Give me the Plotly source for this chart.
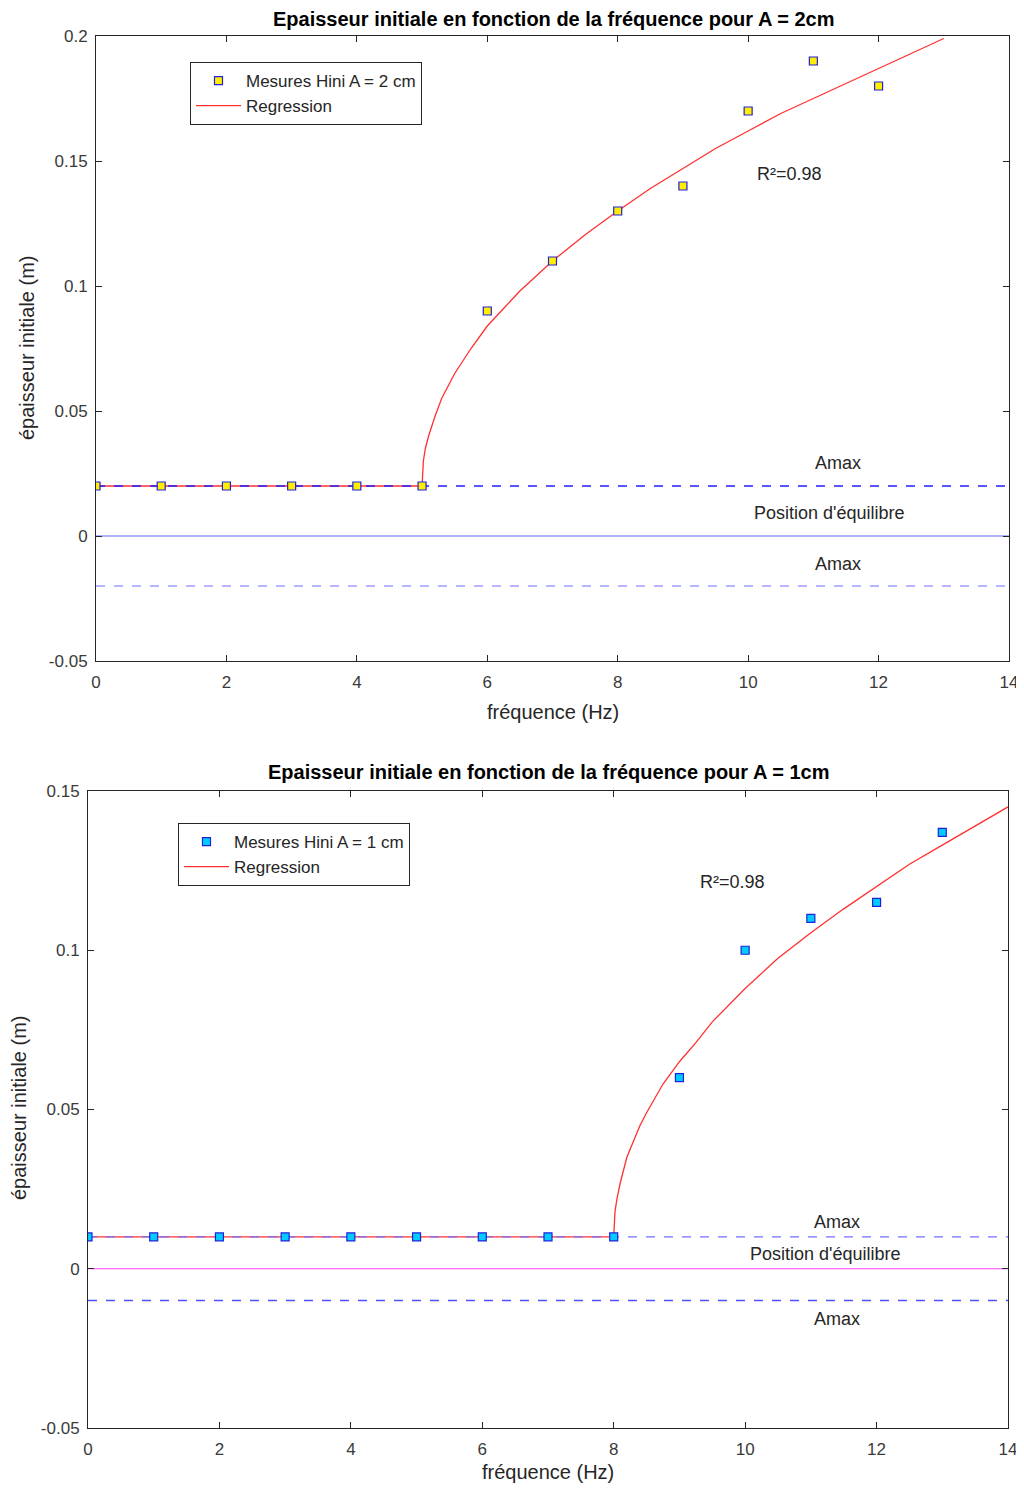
import plotly.graph_objects as go

# ---- data: top chart (A = 2 cm)
f_top = [0, 1, 2, 3, 4, 5, 6, 7, 8, 9, 10, 11, 12]
h_top = [0.02, 0.02, 0.02, 0.02, 0.02, 0.02, 0.09, 0.11, 0.13, 0.14, 0.17, 0.19, 0.18]
reg_f_top = [0, 5, 5.02, 5.05, 5.1, 5.2, 5.3, 5.4, 5.5, 5.75, 6, 6.25, 6.5, 7, 7.5, 8, 8.5, 9,
             9.5, 10, 10.5, 11, 11.5, 12, 12.5, 13]
reg_h_top = [0.02, 0.02, 0.030, 0.035, 0.040, 0.048, 0.055, 0.060, 0.065, 0.075, 0.084, 0.091,
             0.098, 0.110, 0.1205, 0.130, 0.139, 0.147, 0.155, 0.162, 0.169, 0.175, 0.181,
             0.187, 0.193, 0.199]
amax_top = 0.02

# ---- data: bottom chart (A = 1 cm)
f_bot = [0, 1, 2, 3, 4, 5, 6, 7, 8, 9, 10, 11, 12, 13]
h_bot = [0.01, 0.01, 0.01, 0.01, 0.01, 0.01, 0.01, 0.01, 0.01, 0.06, 0.10, 0.11, 0.115, 0.137]
reg_f_bot = [0, 8, 8.02, 8.05, 8.1, 8.2, 8.3, 8.4, 8.5, 8.75, 9, 9.25, 9.5, 10, 10.5, 11, 11.5,
             12, 12.5, 13, 13.5, 14]
reg_h_bot = [0.01, 0.01, 0.018, 0.022, 0.027, 0.035, 0.040, 0.045, 0.049, 0.058, 0.065, 0.071,
             0.0775, 0.088, 0.0975, 0.1055, 0.113, 0.120, 0.127, 0.133, 0.139, 0.145]
amax_bot = 0.01

x_ticks = [0, 2, 4, 6, 8, 10, 12, 14]
y_ticks_top = [-0.05, 0, 0.05, 0.1, 0.15, 0.2]
y_ticks_bot = [-0.05, 0, 0.05, 0.1, 0.15]

OFF = 8  # page body margin
W, H = 1024 - OFF, 1493 - 2 * OFF
FONT = "Liberation Sans, Arial, sans-serif"
TXT = "#262626"


def fx(p):
    return (p - OFF) / W


def fy(p):
    return 1 - (p - OFF) / H


fig = go.Figure()

# --- top traces
fig.add_trace(go.Scatter(x=reg_f_top, y=reg_h_top, mode="lines", name="Regression",
                         line=dict(color="#ff3030", width=1.3),
                         xaxis="x", yaxis="y", legend="legend", legendrank=2))
fig.add_trace(go.Scatter(x=[0, 14], y=[amax_top, amax_top], mode="lines", showlegend=False,
                         line=dict(color="#2020ff", width=1.5, dash="dash"), xaxis="x", yaxis="y"))
fig.add_trace(go.Scatter(x=[0, 14], y=[0, 0], mode="lines", showlegend=False,
                         line=dict(color="#6060ff", width=1.2), xaxis="x", yaxis="y"))
fig.add_trace(go.Scatter(x=[0, 14], y=[-amax_top, -amax_top], mode="lines", showlegend=False,
                         line=dict(color="#6f6fff", width=1.2, dash="dash"), xaxis="x", yaxis="y"))
fig.add_trace(go.Scatter(x=f_top, y=h_top, mode="markers", name="Mesures Hini A = 2 cm",
                         marker=dict(symbol="square", size=8, color="#ffee00",
                                     line=dict(color="#2020dd", width=1.2)),
                         xaxis="x", yaxis="y", legend="legend", legendrank=1))

# --- bottom traces
fig.add_trace(go.Scatter(x=reg_f_bot, y=reg_h_bot, mode="lines", name="Regression",
                         line=dict(color="#ff3030", width=1.3),
                         xaxis="x2", yaxis="y2", legend="legend2", legendrank=2))
fig.add_trace(go.Scatter(x=[0, 14], y=[amax_bot, amax_bot], mode="lines", showlegend=False,
                         line=dict(color="#7070ff", width=1.2, dash="dash"), xaxis="x2", yaxis="y2"))
fig.add_trace(go.Scatter(x=[0, 14], y=[0, 0], mode="lines", showlegend=False,
                         line=dict(color="#ff40ff", width=1.2), xaxis="x2", yaxis="y2"))
fig.add_trace(go.Scatter(x=[0, 14], y=[-amax_bot, -amax_bot], mode="lines", showlegend=False,
                         line=dict(color="#5050ff", width=1.5, dash="dash"), xaxis="x2", yaxis="y2"))
fig.add_trace(go.Scatter(x=f_bot, y=h_bot, mode="markers", name="Mesures Hini A = 1 cm",
                         marker=dict(symbol="square", size=8, color="#00ccff",
                                     line=dict(color="#2020dd", width=1.2)),
                         xaxis="x2", yaxis="y2", legend="legend2", legendrank=1))

axis_common = dict(showgrid=False, zeroline=False, showline=True, linecolor=TXT,
                   linewidth=1, mirror="ticks", ticks="inside", ticklen=6, automargin=False,
                   ticklabeloverflow="allow",
                   tickcolor=TXT, tickfont=dict(size=17, color="#3a3a3a", family=FONT))

fig.update_layout(
    width=W, height=H,
    margin=dict(l=0, r=0, t=0, b=0),
    paper_bgcolor="white", plot_bgcolor="white",
    font=dict(family=FONT, color=TXT),
    xaxis=dict(domain=[fx(96), fx(1009)], range=[0, 14], tickvals=x_ticks,
               anchor="y", ticklabelstandoff=6, **axis_common),
    yaxis=dict(domain=[fy(661), fy(36)], range=[-0.05, 0.2], tickvals=y_ticks_top,
               ticktext=["-0.05", "0", "0.05", "0.1", "0.15", "0.2"], anchor="x",
               ticklabelstandoff=4, **axis_common),
    xaxis2=dict(domain=[fx(88), fx(1008)], range=[0, 14], tickvals=x_ticks,
                anchor="y2", ticklabelstandoff=6, **axis_common),
    yaxis2=dict(domain=[fy(1428), fy(791)], range=[-0.05, 0.15], tickvals=y_ticks_bot,
                ticktext=["-0.05", "0", "0.05", "0.1", "0.15"], anchor="x2",
                ticklabelstandoff=4, **axis_common),
    legend=dict(x=fx(190), y=fy(62), xanchor="left", yanchor="top",
                bgcolor="white", bordercolor=TXT, borderwidth=1,
                font=dict(size=17, color=TXT, family=FONT),
                tracegroupgap=0, itemwidth=45),
    legend2=dict(x=fx(178), y=fy(823), xanchor="left", yanchor="top",
                 bgcolor="white", bordercolor=TXT, borderwidth=1,
                 font=dict(size=17, color=TXT, family=FONT),
                 tracegroupgap=0, itemwidth=45),
    showlegend=True,
)

ann_font = dict(size=18, color=TXT, family=FONT)
lab_font = dict(size=20, color=TXT, family=FONT)
title_font = dict(size=20, color="black", family=FONT)
annotations = [
    dict(text="<b>Epaisseur initiale en fonction de la fréquence pour A = 2cm</b>",
         x=fx(553), y=fy(19), xref="paper", yref="paper", yanchor="middle",
         showarrow=False, font=title_font),
    dict(text="<b>Epaisseur initiale en fonction de la fréquence pour A = 1cm</b>",
         x=fx(548), y=fy(772), xref="paper", yref="paper", yanchor="middle",
         showarrow=False, font=title_font),
    dict(text="fréquence (Hz)", x=fx(553), y=fy(712), xref="paper", yref="paper",
         yanchor="middle", showarrow=False, font=lab_font),
    dict(text="fréquence (Hz)", x=fx(548), y=fy(1485), xref="paper", yref="paper",
         yanchor="bottom", showarrow=False, font=lab_font),
    dict(text="épaisseur initiale (m)", x=fx(27), y=fy(348), xref="paper", yref="paper",
         xanchor="center", yanchor="middle", textangle=-90, showarrow=False, font=lab_font),
    dict(text="épaisseur initiale (m)", x=fx(19), y=fy(1108), xref="paper", yref="paper",
         xanchor="center", yanchor="middle", textangle=-90, showarrow=False, font=lab_font),
    dict(text="Amax", x=11.38, y=0.0292, xref="x", yref="y", showarrow=False, font=ann_font),
    dict(text="Position d'équilibre", x=11.25, y=0.0092, xref="x", yref="y", showarrow=False, font=ann_font),
    dict(text="Amax", x=11.38, y=-0.0112, xref="x", yref="y", showarrow=False, font=ann_font),
    dict(text="R²=0.98", x=10.64, y=0.1448, xref="x", yref="y", showarrow=False, font=ann_font),
    dict(text="Amax", x=11.4, y=0.0147, xref="x2", yref="y2", showarrow=False, font=ann_font),
    dict(text="Position d'équilibre", x=11.23, y=0.0047, xref="x2", yref="y2", showarrow=False, font=ann_font),
    dict(text="Amax", x=11.4, y=-0.0158, xref="x2", yref="y2", showarrow=False, font=ann_font),
    dict(text="R²=0.98", x=9.8, y=0.1214, xref="x2", yref="y2", showarrow=False, font=ann_font),
]
fig.update_layout(annotations=annotations)

fig.write_html("out.html")
